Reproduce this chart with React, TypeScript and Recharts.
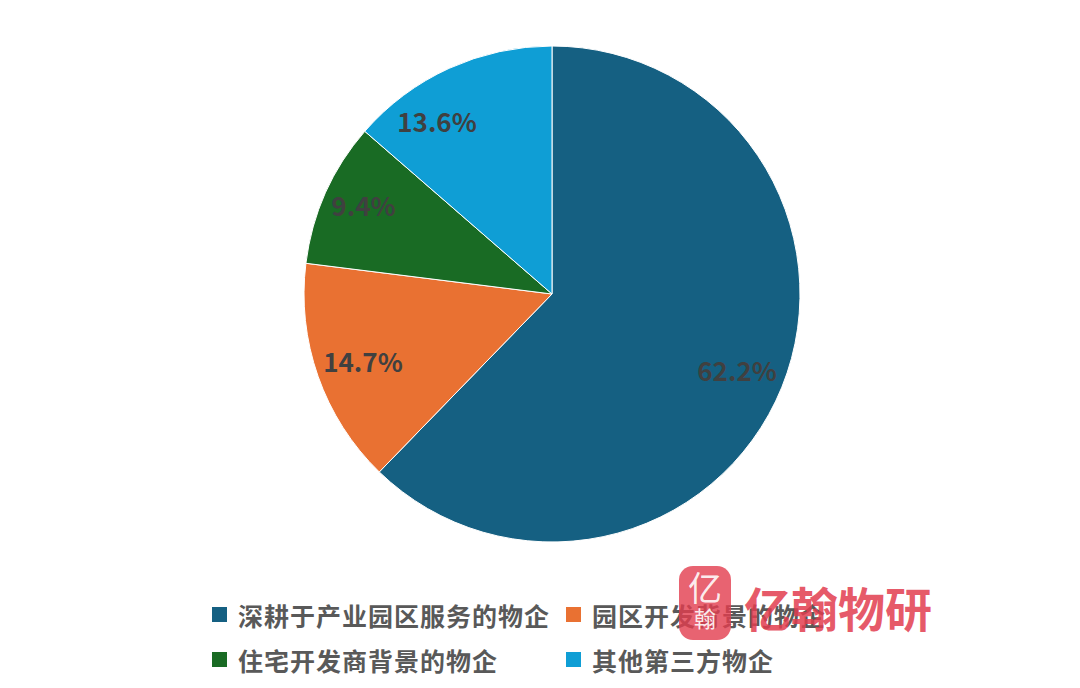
import { Cell, Pie, PieChart } from "recharts";

const categories = ["深耕于产业园区服务的物企", "园区开发背景的物企", "住宅开发商背景的物企", "其他第三方物企"];
const shares = [62.2, 14.7, 9.4, 13.6];
const colors = ["#156082", "#E97132", "#196B24", "#0F9ED5"];

const data = categories.map((name, i) => ({ name, value: shares[i] }));

const FONT = '"Noto Sans CJK SC", "Noto Sans", sans-serif';
const RAD = Math.PI / 180;

// label nudges (degrees, radius factor) to mimic the original's placement
const nudge = [
  { da: 0, rf: 0.805 },
  { da: 0, rf: 0.808 },
  { da: -1.4, rf: 0.842 },
  { da: 9, rf: 0.84 },
];

function PctLabel(props: { cx?: number; cy?: number; midAngle?: number; outerRadius?: number; value?: number; index?: number }) {
  const cx = Number(props.cx ?? 0);
  const cy = Number(props.cy ?? 0);
  const n = nudge[props.index ?? 0] ?? { da: 0, rf: 0.8 };
  const r = Number(props.outerRadius ?? 0) * n.rf;
  const a = Number(props.midAngle ?? 0) + n.da;
  const x = cx + r * Math.cos(-a * RAD);
  const y = cy + r * Math.sin(-a * RAD);
  return (
    <text x={x} y={y} textAnchor="middle" dominantBaseline="central" fill="#404040" fontSize={26} fontWeight={700} fontFamily={FONT}>
      {`${Number(props.value ?? 0).toFixed(1)}%`}
    </text>
  );
}

function LegendItem({ i }: { i: number }) {
  return (
    <div style={{ display: "flex", alignItems: "center", height: 45 }}>
      <span style={{ width: 15, height: 15, background: colors[i], marginRight: 11, flex: "none" }} />
      <span style={{ fontSize: 25, fontWeight: 700, color: "#595959", letterSpacing: 1, whiteSpace: "nowrap" }}>{categories[i]}</span>
    </div>
  );
}

export default function App() {
  return (
    <div style={{ position: "fixed", left: 0, top: 0, width: 1080, height: 688, background: "#fff", fontFamily: FONT, overflow: "hidden" }}>
      <PieChart width={1080} height={688} margin={{ top: 0, right: 0, bottom: 0, left: 0 }}>
        <Pie
          data={data}
          dataKey="value"
          cx={552}
          cy={294}
          outerRadius={248}
          startAngle={90}
          endAngle={-270}
          stroke="#fff"
          strokeWidth={1}
          label={(p: any) => <PctLabel {...p} />}
          labelLine={false}
          isAnimationActive={false}
        >
          {data.map((d, i) => (
            <Cell key={d.name} fill={colors[i]} />
          ))}
        </Pie>
      </PieChart>

      <div style={{ position: "absolute", left: 212, top: 592 }}>
        <LegendItem i={0} />
        <LegendItem i={2} />
      </div>
      <div style={{ position: "absolute", left: 566, top: 592 }}>
        <LegendItem i={1} />
        <LegendItem i={3} />
      </div>

      {/* watermark */}
      <div
        style={{
          position: "absolute",
          left: 679,
          top: 566,
          width: 52,
          height: 74,
          borderRadius: 14,
          background: "rgba(226, 60, 78, 0.8)",
          color: "rgba(255,255,255,0.9)",
          textAlign: "center",
          lineHeight: 1,
        }}
      >
        <div style={{ fontSize: 34, fontWeight: 400, marginTop: 4 }}>亿</div>
        <div style={{ fontSize: 22, fontWeight: 400, marginTop: 2 }}>翰</div>
      </div>
      <div
        style={{
          position: "absolute",
          left: 744,
          top: 583,
          fontSize: 47,
          fontWeight: 700,
          color: "rgba(226, 60, 78, 0.85)",
          lineHeight: 1,
          whiteSpace: "nowrap",
        }}
      >
        亿翰物研
      </div>
    </div>
  );
}
